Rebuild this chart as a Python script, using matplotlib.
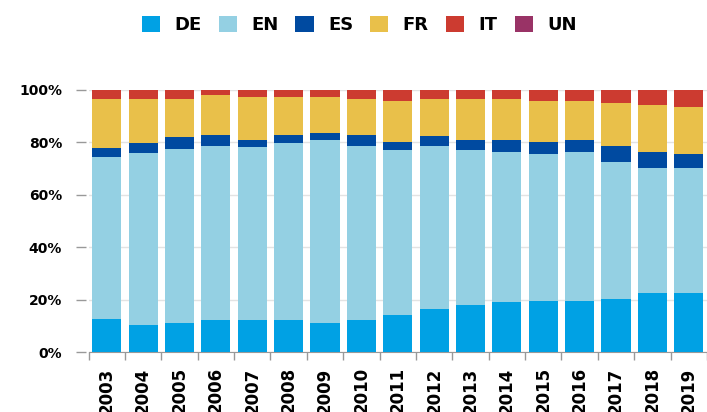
# Language shares per year, stacked to 100%

import numpy as np
from matplotlib import pyplot as plt
from matplotlib.patches import Patch

years = ["2003", "2004", "2005", "2006", "2007", "2008", "2009", "2010", "2011",
         "2012", "2013", "2014", "2015", "2016", "2017", "2018", "2019"]

de = [12.7, 10.4, 11.2, 12.1, 12.1, 12.1, 11.2, 12.1, 14.3, 16.6, 18.1, 18.9, 19.6, 19.6, 20.4, 22.7, 22.7]
en = [61.6, 65.4, 66.1, 66.6, 66.0, 67.5, 69.9, 66.6, 62.9, 62.1, 59.1, 57.5, 56.1, 56.8, 52.2, 47.6, 47.6]
es = [3.7, 3.8, 4.6, 4.0, 3.0, 3.1, 2.3, 4.0, 3.1, 3.8, 3.8, 4.6, 4.6, 4.6, 6.1, 6.1, 5.4]
fr = [18.4, 16.8, 14.5, 15.3, 16.1, 14.5, 13.8, 13.7, 15.4, 13.9, 15.4, 15.4, 15.4, 14.7, 16.2, 17.7, 17.7]
it = [3.6, 3.6, 3.6, 2.0, 2.8, 2.8, 2.8, 3.6, 4.3, 3.6, 3.6, 3.6, 4.3, 4.3, 5.1, 5.9, 6.6]
un = [0] * 17

series = ["DE", "EN", "ES", "FR", "IT", "UN"]
colors = ["#00a1e4", "#94d0e3", "#004aa0", "#e9c04a", "#cc3b30", "#993366"]

plt.rcParams["font.family"] = "DejaVu Sans"
plt.rcParams["font.weight"] = "bold"

fig = plt.figure(figsize=(7.07, 4.12), dpi=100)
ax = fig.add_axes([0.1252, 0.1456, 1 - 0.1252, 0.636])

x = np.arange(len(years))
bottom = np.zeros(len(years))
for vals, c in zip([de, en, es, fr, it, un], colors):
    ax.bar(x, vals, 0.8, bottom=bottom, color=c, linewidth=0, zorder=3)
    bottom += np.array(vals)

ax.set_xlim(-0.5, len(years) - 0.5)
ax.set_ylim(0, 100)
ax.set_yticks([0, 20, 40, 60, 80, 100])
ax.set_yticklabels(["0%", "20%", "40%", "60%", "80%", "100%"], fontsize=12, fontweight="bold")
ax.set_xticks(x)
ax.set_xticklabels(years, rotation=90, fontsize=12, fontweight="bold")
ax.set_xticks(np.arange(-0.5, len(years), 1), minor=True)

ax.tick_params(axis="x", which="major", length=0, pad=11)
ax.tick_params(axis="x", which="minor", length=6, color="#999999", width=1)
ax.tick_params(axis="y", length=7, color="#999999", width=1, pad=10)

ax.grid(axis="y", color="#e3e3e3", linewidth=1, zorder=0)
for s in ["top", "right"]:
    ax.spines[s].set_visible(False)
ax.spines["left"].set_position(("outward", 2))
ax.spines["left"].set_visible(False)
ax.spines["bottom"].set_color("#999999")

handles = [Patch(facecolor=c, edgecolor="none") for c in colors]
fig.legend(handles, series, loc="center", bbox_to_anchor=(0.508, 0.94), ncol=6,
           frameon=False, prop={"weight": "bold", "size": 13},
           handlelength=1.0, handleheight=1.0, handletextpad=0.8, columnspacing=0.95)

plt.savefig("out.png", dpi=100)
